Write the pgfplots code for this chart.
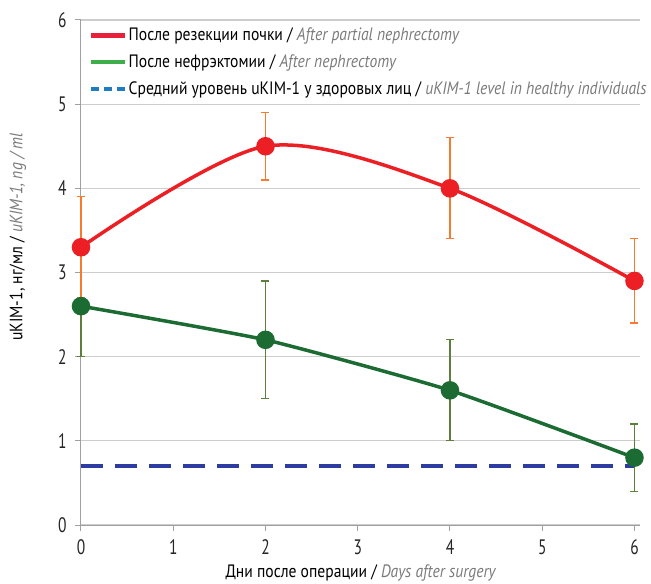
\documentclass[border=0pt]{standalone}
\usepackage{pgfplots}
\pgfplotsset{compat=1.18}
\usepackage{fontspec}
\setmainfont{PT Sans}[FakeStretch=0.87]
\newfontfamily\tickfont{PT Sans}[FakeStretch=0.74]
\definecolor{redline}{HTML}{EC2024}
\definecolor{rederr}{HTML}{F47B30}
\definecolor{greenline}{HTML}{1B6B33}
\definecolor{greenerr}{HTML}{5C7F3E}
\definecolor{blueline}{HTML}{2D3CA0}
\definecolor{legred}{HTML}{E8213A}
\definecolor{leggreen}{HTML}{3DAE49}
\definecolor{legblue}{HTML}{1F7EC1}
\definecolor{engray}{HTML}{7A7A7A}
\definecolor{axgray}{HTML}{A0A0A0}
\definecolor{gridgray}{HTML}{CDCDCD}
\begin{document}
\begin{tikzpicture}
\begin{axis}[
  scale only axis, width=559bp, height=505bp,
  xmin=0, xmax=6.06, ymin=0, ymax=6,
  axis x line=bottom, axis y line=left,
  axis line style={-, draw=axgray, line width=1bp},
  xtick={0,1,2,3,4,5,6}, ytick={0,1,2,3,4,5,6},
  xticklabels={0,1,2,3,4,5,6}, yticklabels={0,1,2,3,4,5,6},
  tick align=outside, major tick length=6bp,
  tick style={axgray, line width=1bp},
  ymajorgrids, grid style={gridgray, line width=1.3bp},
  font=\fontsize{18}{21}\selectfont,
  /pgf/number format/assume math mode=true,
  xticklabel style={font={\tickfont\fontsize{21}{24}\selectfont}, text=black!85, yshift=-5bp},
  yticklabel style={font={\tickfont\fontsize{21}{24}\selectfont}, text=black!85, xshift=-5bp},
  xlabel={Дни после операции / \textcolor{engray}{\itshape Days after surgery}},
  ylabel={uKIM-1, нг/мл / \textcolor{engray}{\itshape uKIM-1, ng / ml}},
  every axis x label/.style={at={([yshift=-48bp]axis description cs:0.5,0)}, anchor=center},
  every axis y label/.style={at={([xshift=-63bp]axis description cs:0,0.57)}, anchor=center, rotate=90},
  legend style={at={([xshift=5bp,yshift=-5bp]axis description cs:0,1)}, anchor=north west,
    draw=none, fill=none, font=\fontsize{18}{21}\selectfont, row sep=10.5bp,
    nodes={inner sep=1bp}},
  legend cell align=left,
  legend image code/.code={\draw[#1] (0bp,0bp) -- (34bp,0bp);},
  clip=false,
]
\addlegendimage{legred, line width=4.5bp}
\addlegendentry{После резекции почки / \textcolor{engray}{\itshape After partial nephrectomy}}
\addlegendimage{leggreen, line width=4.5bp}
\addlegendentry{После нефрэктомии / \textcolor{engray}{\itshape After nephrectomy}}
\addlegendimage{legblue, line width=4.5bp, dash pattern=on 8bp off 5bp}
\addlegendentry{Средний уровень uKIM-1 у здоровых лиц / \textcolor{engray}{\itshape uKIM-1 level in healthy individuals}}

% healthy level
\addplot[blueline, line width=4bp, dash pattern=on 22bp off 12bp, forget plot] coordinates {(0,0.7) (6,0.7)};

% error bars green
\addplot[draw=none, mark=none, forget plot,
  error bars/.cd, y dir=both, y explicit,
  error bar style={greenerr, line width=1.3bp},
  error mark options={rotate=90, greenerr, mark size=4bp, line width=1.3bp}]
  table[x=x, y=y, y error plus=ep, y error minus=em] {
x y ep em
0 2.6 0.6 0.6
2 2.2 0.7 0.7
4 1.6 0.6 0.6
6 0.8 0.4 0.4
};
% error bars red
\addplot[draw=none, mark=none, forget plot,
  error bars/.cd, y dir=both, y explicit,
  error bar style={rederr, line width=1.3bp},
  error mark options={rotate=90, rederr, mark size=4bp, line width=1.3bp}]
  table[x=x, y=y, y error plus=ep, y error minus=em] {
x y ep em
0 3.3 0.6 0.6
2 4.5 0.4 0.4
4 4.0 0.6 0.6
6 2.9 0.5 0.5
};

\addplot[greenline, line width=3.5bp, smooth, tension=0.3, mark=*, mark size=7.5bp,
  mark options={fill=greenline, draw=none}, forget plot]
  coordinates {(0,2.6) (2,2.2) (4,1.6) (6,0.8)};
\addplot[redline, line width=3.5bp, smooth, mark=*, mark size=7.5bp,
  mark options={fill=redline, draw=none}, forget plot]
  coordinates {(0,3.3) (2,4.5) (4,4.0) (6,2.9)};
\end{axis}
\pgfresetboundingbox
\path (-81bp,-59bp) rectangle (570bp,525bp);
\end{tikzpicture}
\end{document}
